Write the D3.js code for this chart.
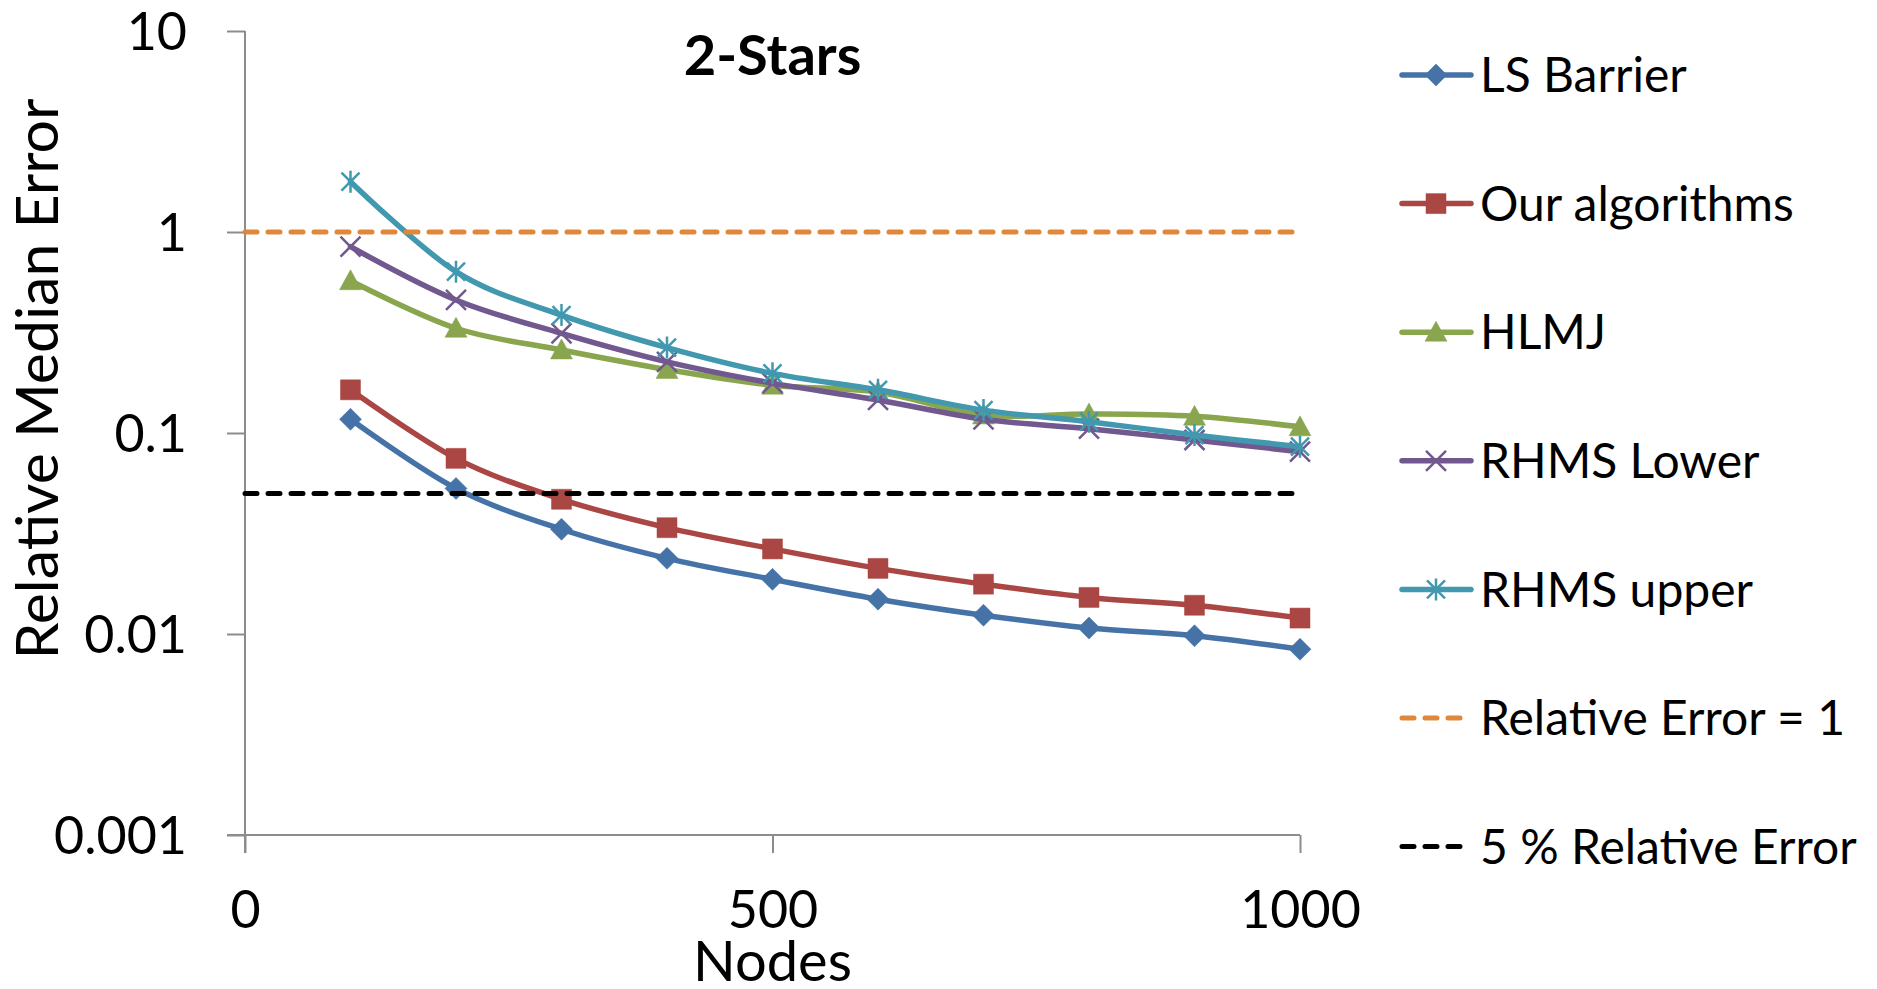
<!DOCTYPE html>
<html>
<head>
<meta charset="utf-8">
<script src="https://cdn.jsdelivr.net/npm/d3@7"></script>
<style>
  html, body { margin: 0; padding: 0; background: #fff; }
  svg { display: block; font-family: Lato, "Open Sans", sans-serif; }
</style>
</head>
<body>
<svg id="chart" width="1877" height="989"></svg>
<script>
// ---- data ----
const nodes = [100, 200, 300, 400, 500, 600, 700, 800, 900, 1000];
const lsBarrier     = [0.117, 0.053, 0.0332, 0.0238, 0.0187, 0.0149, 0.0124, 0.0107, 0.0098, 0.0084];
const ourAlgorithms = [0.164, 0.0748, 0.0468, 0.0338, 0.0265, 0.0212, 0.0177, 0.0152, 0.0139, 0.0120];
const hlmj          = [0.572, 0.332, 0.259, 0.207, 0.173, 0.160, 0.1229, 0.1244, 0.1211, 0.1073];
const rhmsLower     = [0.845, 0.459, 0.313, 0.226, 0.177, 0.146, 0.117, 0.105, 0.0923, 0.0807];
const rhmsUpper     = [1.78, 0.635, 0.386, 0.266, 0.198, 0.164, 0.130, 0.1138, 0.0977, 0.0855];
const refX = [0, 1000];
const relErrOne  = [1, 1];
const fivePct    = [0.05, 0.05];
const yTicks = [0.001, 0.01, 0.1, 1, 10];
const yTickLabels = ["0.001", "0.01", "0.1", "1", "10"];
const xTicks = [0, 500, 1000];
const seriesNames = ["LS Barrier", "Our algorithms", "HLMJ", "RHMS Lower", "RHMS upper", "Relative Error = 1", "5 % Relative Error"];
const title = "2-Stars";
const xTitle = "Nodes";
const yTitle = "Relative Median Error";

// ---- styles ----
const series = [
  { name: seriesNames[0], values: lsBarrier,     color: "#4572A7", marker: "diamond" },
  { name: seriesNames[1], values: ourAlgorithms, color: "#AA4643", marker: "square" },
  { name: seriesNames[2], values: hlmj,          color: "#89A54E", marker: "triangle" },
  { name: seriesNames[3], values: rhmsLower,     color: "#71588F", marker: "x" },
  { name: seriesNames[4], values: rhmsUpper,     color: "#4198AF", marker: "star" }
];
const refs = [
  { name: seriesNames[5], values: relErrOne, color: "#E0873A" },
  { name: seriesNames[6], values: fivePct,   color: "#000000" }
];

const svg = d3.select("#chart");
const x = d3.scaleLinear().domain([0, 1000]).range([245, 1300]);
const y = d3.scaleLog().domain([0.001, 10]).range([835, 31]);

const axisColor = "#8c8c8c";

// y axis
const gy = svg.append("g").attr("transform", `translate(${x(0)},0)`)
  .call(d3.axisLeft(y).tickValues(yTicks).tickSize(18).tickPadding(40)
        .tickFormat((d, i) => yTickLabels[i]));
gy.select(".domain").attr("stroke", axisColor).attr("stroke-width", 2).attr("d", `M0,${y(10)}V853`);
gy.selectAll(".tick line").attr("stroke", axisColor).attr("stroke-width", 2);
gy.selectAll(".tick text").attr("font-family", "Lato").attr("font-size", 52).attr("fill", "#000")
  .attr("dy", "0.36em");

// x axis
const gx = svg.append("g").attr("transform", `translate(0,${y(0.001)})`)
  .call(d3.axisBottom(x).tickValues(xTicks).tickSize(18).tickFormat(d3.format("d")));
gx.select(".domain").attr("stroke", axisColor).attr("stroke-width", 2).attr("d", `M227,0H${x(1000)}`);
gx.selectAll(".tick line").attr("stroke", axisColor).attr("stroke-width", 2);
gx.selectAll(".tick text").attr("font-family", "Lato").attr("font-size", 52).attr("fill", "#000")
  .attr("y", 93).attr("dy", 0);

// titles
svg.append("text").attr("x", x(500)).attr("y", 75).attr("text-anchor", "middle")
  .attr("font-family", "Lato").attr("font-weight", "bold").attr("font-size", 56).text(title);
svg.append("text").attr("x", x(500)).attr("y", 981).attr("text-anchor", "middle")
  .attr("font-family", "Lato").attr("font-size", 56).text(xTitle);
svg.append("text").attr("transform", "translate(58,379) rotate(-90)").attr("text-anchor", "middle")
  .attr("font-family", "Lato").attr("font-size", 59).text(yTitle);

// markers
function markerPath(type) {
  switch (type) {
    case "diamond": return "M0,-11L11,0L0,11L-11,0Z";
    case "square": return "M-10,-10H10V10H-10Z";
    case "triangle": return "M0,-11L11,9L-11,9Z";
    case "x": return "M-10,-10L10,10M-10,10L10,-10";
    case "star": return "M-9,-9L9,9M-9,9L9,-9M0,-11V11";
  }
}
function drawMarker(g, type, color) {
  const filled = type === "diamond" || type === "square" || type === "triangle";
  g.append("path").attr("d", markerPath(type))
    .attr("fill", filled ? color : "none")
    .attr("stroke", color)
    .attr("stroke-width", filled ? 0.5 : 2.5);
}

const line = d3.line().x((d, i) => x(nodes[i])).y(d => y(d)).curve(d3.curveCardinal.tension(0));
const plot = svg.append("g");
series.forEach(s => {
  const g = plot.append("g");
  g.append("path").datum(s.values).attr("d", line).attr("fill", "none")
    .attr("stroke", s.color).attr("stroke-width", 5.5).attr("stroke-linecap", "round").attr("stroke-linejoin", "round");
  s.values.forEach((v, i) => {
    const m = g.append("g").attr("transform", `translate(${x(nodes[i])},${y(v)})`);
    drawMarker(m, s.marker, s.color);
  });
});
const refLine = d3.line().x((d, i) => x(refX[i])).y(d => y(d));
refs.forEach(r => {
  plot.append("path").datum(r.values).attr("d", refLine).attr("fill", "none")
    .attr("stroke", r.color).attr("stroke-width", 5).attr("stroke-dasharray", "12,11")
    .attr("stroke-linecap", "round");
});

// legend
const legend = svg.append("g");
const all = series.concat(refs.map(r => Object.assign({ dashed: true }, r)));
all.forEach((s, i) => {
  const cy = 75 + i * 128.6;
  const g = legend.append("g").attr("transform", `translate(0,${cy})`);
  if (s.dashed) {
    g.append("line").attr("x1", 1402).attr("x2", 1462).attr("y1", 0).attr("y2", 0)
      .attr("stroke", s.color).attr("stroke-width", 5).attr("stroke-dasharray", "12,11").attr("stroke-linecap", "round");
  } else {
    g.append("line").attr("x1", 1402).attr("x2", 1471).attr("y1", 0).attr("y2", 0)
      .attr("stroke", s.color).attr("stroke-width", 5.5).attr("stroke-linecap", "round");
    const m = g.append("g").attr("transform", "translate(1436,0)");
    drawMarker(m, s.marker, s.color);
  }
  g.append("text").attr("x", 1480).attr("y", 0).attr("dy", "0.36em")
    .attr("font-family", "Lato").attr("font-size", 48).attr("fill", "#000").text(s.name);
});
</script>
</body>
</html>
